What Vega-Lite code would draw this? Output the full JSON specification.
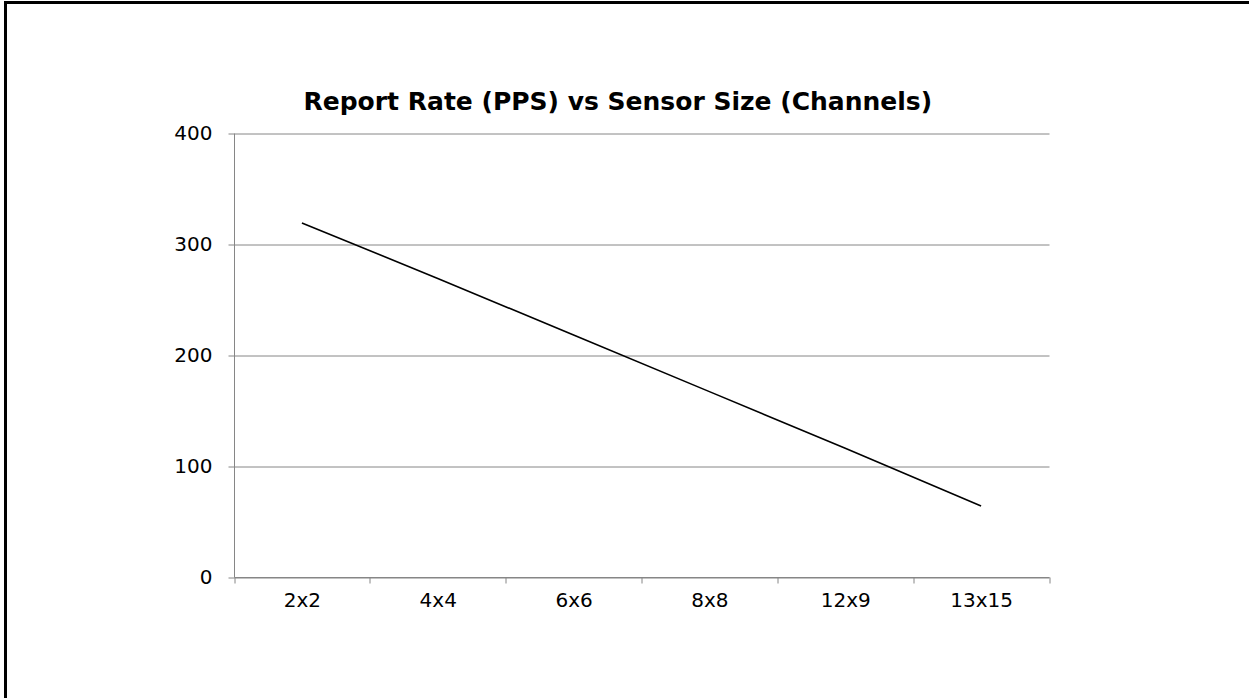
{
  "$schema": "https://vega.github.io/schema/vega-lite/v6.json",
  "autosize": "none",
  "padding": {"left": 5.5, "top": 2.5, "right": 0, "bottom": 0},
  "width": 1250,
  "height": 700,
  "background": "white",
  "title": {
    "text": "Report Rate (PPS) vs Sensor Size (Channels)",
    "font": "DejaVu Sans",
    "fontSize": 25,
    "fontWeight": "bold",
    "color": "black",
    "anchor": "start",
    "frame": "group",
    "offset": -112,
    "dx": 298
  },
  "config": {
    "view": {"stroke": "black", "strokeWidth": 3},
    "axis": {
      "labelFont": "DejaVu Sans",
      "labelFontSize": 20,
      "labelColor": "black",
      "domainColor": "#868686",
      "tickColor": "#868686",
      "gridColor": "#868686",
      "domainWidth": 1,
      "tickWidth": 1,
      "gridWidth": 1,
      "tickSize": 6,
      "title": null
    }
  },
  "data": {
    "values": [
      {"size": "2x2", "rate": 319},
      {"size": "4x4", "rate": 269},
      {"size": "6x6", "rate": 218},
      {"size": "8x8", "rate": 167},
      {"size": "12x9", "rate": 116},
      {"size": "13x15", "rate": 64}
    ]
  },
  "mark": {"type": "line", "color": "black", "strokeWidth": 1.6},
  "encoding": {
    "x": {
      "field": "size",
      "type": "nominal",
      "sort": null,
      "scale": {"type": "band", "range": [228.5, 1043.5], "paddingInner": 0, "paddingOuter": 0},
      "axis": {
        "orient": "bottom",
        "offset": -125.5,
        "labelAngle": 0,
        "labelPadding": 7,
        "tickBand": "extent",
        "grid": false
      }
    },
    "y": {
      "field": "rate",
      "type": "quantitative",
      "scale": {"domain": [0, 400], "range": [574.5, 130.5], "nice": false},
      "axis": {
        "orient": "left",
        "offset": -228.5,
        "values": [0, 100, 200, 300, 400],
        "labelPadding": 16,
        "grid": true
      }
    }
  }
}
